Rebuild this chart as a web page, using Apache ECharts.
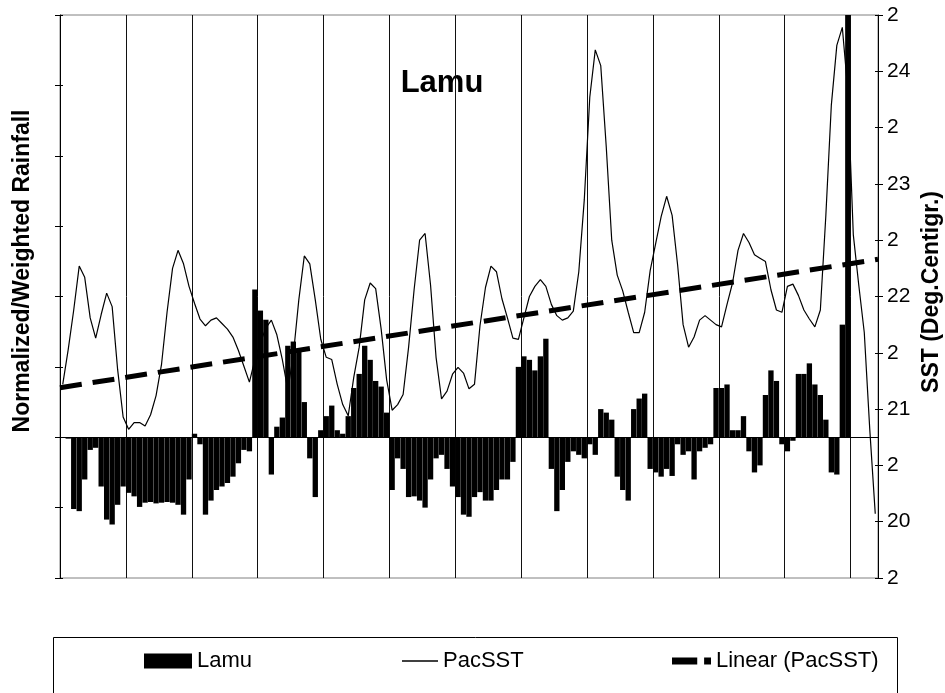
<!DOCTYPE html>
<html>
<head>
<meta charset="utf-8">
<script src="https://cdn.jsdelivr.net/npm/echarts@6/dist/echarts.min.js"></script>
<style>html,body{margin:0;padding:0;background:#fff;}#c{width:945px;height:693px;}</style>
</head>
<body>
<div id="c"></div>
<script>
// Lamu normalized/weighted rainfall (left axis), monthly
var lamu = [
 0, -0.02, -1.02, -1.05, -0.6, -0.18, -0.15, -0.70, -1.17, -1.24,
 -0.96, -0.70, -0.79, -0.84, -0.99, -0.93, -0.92, -0.94, -0.93, -0.92,
 -0.93, -0.96, -1.10, -0.6, 0.05, -0.10, -1.10, -0.90, -0.75, -0.70,
 -0.65, -0.56, -0.37, -0.18, -0.20, 2.10, 1.80, 1.67, -0.53, 0.15,
 0.28, 1.30, 1.36, 1.24, 0.50, -0.30, -0.85, 0.10, 0.30, 0.45,
 0.10, 0.05, 0.30, 0.70, 0.90, 1.30, 1.10, 0.80, 0.72, 0.35,
 -0.75, -0.30, -0.45, -0.85, -0.84, -0.90, -1.00, -0.60, -0.30, -0.25,
 -0.45, -0.70, -0.85, -1.10, -1.13, -0.85, -0.78, -0.90, -0.90, -0.75,
 -0.60, -0.60, -0.35, 1.00, 1.15, 1.10, 0.95, 1.15, 1.40, -0.45,
 -1.05, -0.75, -0.35, -0.20, -0.25, -0.30, -0.10, -0.25, 0.40, 0.35,
 0.25, -0.56, -0.75, -0.90, 0.40, 0.55, 0.62, -0.45, -0.50, -0.56,
 -0.45, -0.55, -0.10, -0.25, -0.20, -0.60, -0.20, -0.15, -0.10, 0.70,
 0.70, 0.75, 0.10, 0.10, 0.30, -0.20, -0.50, -0.40, 0.60, 0.95,
 0.80, -0.10, -0.20, -0.05, 0.90, 0.90, 1.05, 0.75, 0.60, 0.25,
 -0.50, -0.53, 1.60, 6.00, 0, 0, 0, 0, 0
];
// Pacific SST (right axis, deg C)
var pacSST = [
 21.22, 21.53, 21.88, 22.27, 22.17, 21.81, 21.63, 21.84, 22.03, 21.91,
 21.35, 20.93, 20.82, 20.88, 20.88, 20.85, 20.95, 21.12, 21.40, 21.86,
 22.25, 22.41, 22.29, 22.09, 21.94, 21.80, 21.74, 21.79, 21.81, 21.76,
 21.71, 21.64, 21.52, 21.38, 21.24, 21.44, 21.59, 21.72, 21.79, 21.66,
 21.44, 21.17, 21.48, 21.97, 22.36, 22.29, 21.97, 21.62, 21.46, 21.44,
 21.22, 21.04, 20.94, 21.28, 21.55, 21.97, 22.12, 22.07, 21.71, 21.26,
 20.99, 21.04, 21.13, 21.55, 22.06, 22.50, 22.56, 22.10, 21.46, 21.09,
 21.16, 21.31, 21.37, 21.32, 21.18, 21.22, 21.74, 22.08, 22.27, 22.22,
 21.98, 21.81, 21.63, 21.62, 21.81, 22.00, 22.09, 22.15, 22.09, 21.93,
 21.83, 21.79, 21.81, 21.87, 22.22, 22.86, 23.77, 24.19, 24.05, 23.33,
 22.50, 22.19, 22.05, 21.86, 21.68, 21.68, 21.86, 22.23, 22.47, 22.71,
 22.89, 22.72, 22.28, 21.75, 21.55, 21.64, 21.79, 21.83, 21.79, 21.75,
 21.73, 21.93, 22.12, 22.41, 22.56, 22.48, 22.37, 22.34, 22.31, 22.06,
 21.88, 21.86, 22.09, 22.11, 22.01, 21.88, 21.80, 21.73, 21.88, 22.72,
 23.70, 24.23, 24.39, 23.83, 22.55, 22.10, 21.68, 20.82, 20.07
];
// Linear trend of PacSST: value at start and end of the period
var trendStart = 21.19;
var trendEnd = 22.33;
// month index categories
var categories = lamu.map(function (v, i) { return String(i + 1); });
// axis scales
var sstMin = 19.5, sstMax = 24.5, sstStep = 0.5;
var rainMin = -2, rainMax = 6, rainStep = 1;

var FONT = 'Liberation Sans, Arial, sans-serif';
var chart = echarts.init(document.getElementById('c'), null, {renderer: 'canvas'});
chart.setOption({
  animation: false,
  backgroundColor: '#fff',
  textStyle: {fontFamily: FONT, color: '#000'},
  grid: {left: 60, right: 67, top: 15, bottom: 115, show: true, borderColor: '#808080', borderWidth: 1, backgroundColor: 'transparent'},
  xAxis: [
    {type: 'category', data: categories, boundaryGap: true,
     axisLine: {show: true, onZero: true, lineStyle: {color: '#000', width: 1}},
     axisTick: {show: false}, axisLabel: {show: false},
     splitLine: {show: true, interval: 11, lineStyle: {color: '#111', width: 1}}},
    {type: 'value', min: 0, max: 1, show: false}
  ],
  yAxis: [
    {type: 'value', position: 'left', min: rainMin, max: rainMax, interval: rainStep,
     axisLine: {show: true, lineStyle: {color: '#000', width: 1}},
     axisTick: {show: true, length: 5, lineStyle: {color: '#000'}},
     axisLabel: {show: false}, splitLine: {show: false}},
    {type: 'value', position: 'right', min: sstMin, max: sstMax, interval: sstStep,
     axisLine: {show: true, lineStyle: {color: '#000', width: 1}},
     axisTick: {show: true, length: 5, lineStyle: {color: '#000'}},
     axisLabel: {show: true, margin: 9, fontSize: 21, color: '#000', fontFamily: FONT,
       formatter: function (v) { return (Math.abs(v - Math.round(v)) < 1e-6) ? String(Math.round(v)) : '2'; }},
     splitLine: {show: false}},
    {type: 'value', position: 'left', min: rainMin, max: rainMax, interval: rainStep,
     axisLine: {show: false}, axisTick: {show: true, inside: true, length: 3, lineStyle: {color: '#000'}},
     axisLabel: {show: false}, splitLine: {show: false}},
    {type: 'value', position: 'right', min: sstMin, max: sstMax, interval: sstStep,
     axisLine: {show: false}, axisTick: {show: true, inside: true, length: 3, lineStyle: {color: '#000'}},
     axisLabel: {show: false}, splitLine: {show: false}}
  ],
  legend: [
    {data: [{name: 'Lamu', icon: 'rect'}], left: 139, top: 645, itemWidth: 48, itemHeight: 15,
     textStyle: {fontSize: 22, color: '#000', fontFamily: FONT}},
    {data: [{name: 'PacSST', icon: 'rect'}], left: 397, top: 645, itemWidth: 36, itemHeight: 1.3,
     textStyle: {fontSize: 22, color: '#000', fontFamily: FONT}},
    {data: [{name: 'Linear (PacSST)', icon: 'path://M0,0 H22 V6 H0 Z M28,0 H34 V6 H28 Z'}], left: 667, top: 645, itemWidth: 39, itemHeight: 7,
     textStyle: {fontSize: 22, color: '#000', fontFamily: FONT}}
  ],
  graphic: [
    {type: 'text', x: 442, y: 83, style: {text: 'Lamu', font: 'bold 31px ' + FONT, fill: '#000', align: 'center', verticalAlign: 'middle'}},
    {type: 'text', x: 23, y: 271, rotation: Math.PI / 2, style: {text: 'Normalized/Weighted Rainfall', font: 'bold 23px ' + FONT, fill: '#000', align: 'center', verticalAlign: 'middle'}},
    {type: 'text', x: 932, y: 292, rotation: Math.PI / 2, style: {text: 'SST (Deg.Centigr.)', font: 'bold 23px ' + FONT, fill: '#000', align: 'center', verticalAlign: 'middle'}},
    {type: 'rect', shape: {x: 53.5, y: 637.5, width: 844, height: 80}, style: {fill: 'none', stroke: '#000', lineWidth: 1}, silent: true}
  ],
  series: [
    {name: 'Lamu', type: 'bar', xAxisIndex: 0, yAxisIndex: 0, data: lamu, barCategoryGap: '3%',
     itemStyle: {color: '#000'}, z: 2},
    {name: 'PacSST', type: 'line', xAxisIndex: 0, yAxisIndex: 1, data: pacSST, symbol: 'none',
     lineStyle: {color: '#000', width: 1.2}, itemStyle: {color: '#000'}, z: 3},
    {name: 'Linear (PacSST)', type: 'line', xAxisIndex: 1, yAxisIndex: 1,
     data: [[0, trendStart], [1, trendEnd]], symbol: 'none',
     lineStyle: {color: '#000', width: 5, type: [22, 11], cap: 'butt'}, itemStyle: {color: '#000'}, z: 4}
  ]
});
</script>
</body>
</html>
